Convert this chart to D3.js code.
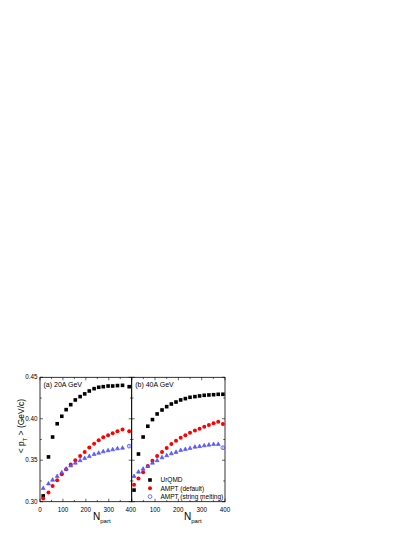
<!DOCTYPE html>
<html>
<head>
<meta charset="utf-8">
<script src="https://cdn.jsdelivr.net/npm/d3@7"></script>
<style>
  body { margin: 0; background: #fff; }
  svg { display: block; font-family: "Liberation Sans", Arial, sans-serif; }
</style>
</head>
<body>
<svg id="chart" width="415" height="537"></svg>
<script>
// Panel (a) 20A GeV
const npartA = [14, 37, 55, 75, 95, 114, 134, 154, 175, 195, 215, 236, 256, 276, 297, 317, 338, 360, 389];
const urqmdA = [0.307, 0.354, 0.378, 0.394, 0.403, 0.411, 0.417, 0.4227, 0.4267, 0.430, 0.4335, 0.4363, 0.438, 0.4387, 0.4395, 0.4395, 0.440, 0.4403, 0.4387];
const amptA = [0.304, 0.311, 0.319, 0.326, 0.333, 0.339, 0.345, 0.350, 0.355, 0.360, 0.3655, 0.370, 0.374, 0.3776, 0.380, 0.3824, 0.385, 0.387, 0.385];
const smA = [0.3165, 0.322, 0.3265, 0.331, 0.3354, 0.3398, 0.3438, 0.347, 0.350, 0.3527, 0.355, 0.3575, 0.359, 0.3607, 0.362, 0.3631, 0.3643, 0.365, 0.367];

// Panel (b) 40A GeV
const npartB = [10, 29, 49, 69, 89, 109, 130, 150, 170, 190, 210, 230, 250, 271, 291, 311, 331, 351, 371, 391];
const urqmdB = [0.314, 0.3575, 0.378, 0.391, 0.399, 0.4058, 0.4106, 0.4146, 0.4178, 0.4202, 0.4227, 0.4243, 0.4259, 0.4267, 0.4275, 0.4283, 0.4287, 0.429, 0.4295, 0.4295];
const amptB = [0.3205, 0.328, 0.3354, 0.343, 0.3495, 0.355, 0.360, 0.3647, 0.3696, 0.3736, 0.3772, 0.380, 0.3832, 0.386, 0.388, 0.3905, 0.3925, 0.3945, 0.3965, 0.3937];
const smB = [0.331, 0.3362, 0.3398, 0.343, 0.347, 0.350, 0.3535, 0.356, 0.3583, 0.360, 0.3623, 0.3635, 0.3647, 0.3663, 0.367, 0.368, 0.3688, 0.3696, 0.3696, 0.3651];

// error on most central point
const lastErr = [0.002, 0.002, 0.002];

const xTicksA = [0, 100, 200, 300, 400];
const xTicksB = [100, 200, 300, 400];
const yTicks = [0.30, 0.35, 0.40, 0.45];
const seriesNames = ['UrQMD', 'AMPT (default)', 'AMPT (string melting)'];
const panelLabels = ['(a) 20A GeV', '(b) 40A GeV'];

const svg = d3.select('#chart');
const plotTop = 377.3, plotBottom = 501.7;
const panels = [
    { x0: 40, x1: 131.7, npart: npartA, series: [urqmdA, amptA, smA], label: panelLabels[0], ticks: xTicksA },
    { x0: 131.7, x1: 225, npart: npartB, series: [urqmdB, amptB, smB], label: panelLabels[1], ticks: xTicksB }
];

const y = d3.scaleLinear().domain([0.30, 0.45]).range([plotBottom, plotTop]);
const colors = ['#000', '#ff0000', '#3b3bff'];

// marker drawing helper
function drawMarker(g, kind, cx, cy, open) {
    if (kind === 0) {
        g.append('rect')
            .attr('x', cx - 1.8).attr('y', cy - 1.8)
            .attr('width', 3.6).attr('height', 3.6)
            .attr('fill', '#000');
    } else if (kind === 1) {
        g.append('circle')
            .attr('cx', cx).attr('cy', cy).attr('r', 2)
            .attr('fill', '#ff0000');
    } else if (open) {
        g.append('circle')
            .attr('cx', cx).attr('cy', cy).attr('r', 1.9)
            .attr('fill', 'none').attr('stroke', '#3b3bff').attr('stroke-width', 0.7);
    } else {
        g.append('path')
            .attr('transform', `translate(${cx},${cy})`)
            .attr('d', 'M0,-2.1L2,1.5L-2,1.5Z')
            .attr('fill', '#5f5fff').attr('stroke', '#3b3bff').attr('stroke-width', 0.5);
    }
}

panels.forEach((p, pi) => {
    const x = d3.scaleLinear().domain([0, 400]).range([p.x0, p.x1]);
    const g = svg.append('g');

    // frame
    g.append('rect')
        .attr('x', p.x0).attr('y', plotTop)
        .attr('width', p.x1 - p.x0).attr('height', plotBottom - plotTop)
        .attr('fill', 'none').attr('stroke', '#000').attr('stroke-width', 0.8);

    // x ticks (inside, bottom and top)
    d3.range(0, 401, 50).forEach(t => {
        const len = t % 100 === 0 ? 3 : 1.8;
        g.append('line').attr('x1', x(t)).attr('x2', x(t))
            .attr('y1', plotBottom).attr('y2', plotBottom - len)
            .attr('stroke', '#000').attr('stroke-width', 0.6);
        g.append('line').attr('x1', x(t)).attr('x2', x(t))
            .attr('y1', plotTop).attr('y2', plotTop + len)
            .attr('stroke', '#000').attr('stroke-width', 0.6);
    });
    p.ticks.forEach(t => {
        g.append('text')
            .attr('x', x(t) - (pi === 0 && t === 400 ? 1 : 0)).attr('y', 512)
            .attr('text-anchor', 'middle')
            .style('font-size', '6.3px')
            .text(t);
    });

    // y ticks (inside, both sides)
    d3.range(0.30, 0.4501, 0.025).forEach(t => {
        const major = Math.abs(Math.round(t * 1000) % 50) < 1;
        const len = major ? 3 : 1.8;
        g.append('line').attr('x1', p.x0).attr('x2', p.x0 + len)
            .attr('y1', y(t)).attr('y2', y(t))
            .attr('stroke', '#000').attr('stroke-width', 0.6);
        g.append('line').attr('x1', p.x1).attr('x2', p.x1 - len)
            .attr('y1', y(t)).attr('y2', y(t))
            .attr('stroke', '#000').attr('stroke-width', 0.6);
    });

    // x label
    const xl = g.append('text')
        .attr('x', pi === 0 ? 93 : 184).attr('y', 520)
        .style('font-size', '10px');
    xl.append('tspan').text('N');
    xl.append('tspan').attr('dy', 2.5).style('font-size', '6px').text('part');

    // panel label
    g.append('text')
        .attr('x', p.x0 + 3.5).attr('y', 387)
        .style('font-size', '7px')
        .text(p.label);

    // data
    p.series.forEach((vals, si) => {
        const n = vals.length;
        const lx = x(p.npart[n - 1]);
        g.append('line')
            .attr('x1', lx).attr('x2', lx)
            .attr('y1', y(vals[n - 1] - lastErr[si])).attr('y2', y(vals[n - 1] + lastErr[si]))
            .attr('stroke', colors[si])
            .attr('stroke-width', 0.6);
        vals.forEach((v, i) => {
            drawMarker(g, si, x(p.npart[i]), y(v), si === 2 && i === n - 1);
        });
    });
});

// y tick labels
yTicks.forEach(t => {
    svg.append('text')
        .attr('x', 37.5).attr('y', y(t) + 2)
        .attr('text-anchor', 'end')
        .style('font-size', '6.3px')
        .text(t.toFixed(2));
});

// y label
const yl = svg.append('text')
    .attr('transform', 'translate(24,426) rotate(-90)')
    .attr('text-anchor', 'middle')
    .style('font-size', '8.5px');
yl.append('tspan').text('< p');
yl.append('tspan').attr('dy', 2.5).style('font-size', '5.5px').text('T');
yl.append('tspan').attr('dy', -2.5).text(' > (GeV/c)');

// legend in panel b
const legY = [480, 488.3, 496.6];
seriesNames.forEach((name, i) => {
    drawMarker(svg, i, 150, legY[i], i === 2);
    svg.append('text')
        .attr('x', 160.5).attr('y', legY[i] + 2.3)
        .style('font-size', '6.5px')
        .text(name);
});
</script>
</body>
</html>
